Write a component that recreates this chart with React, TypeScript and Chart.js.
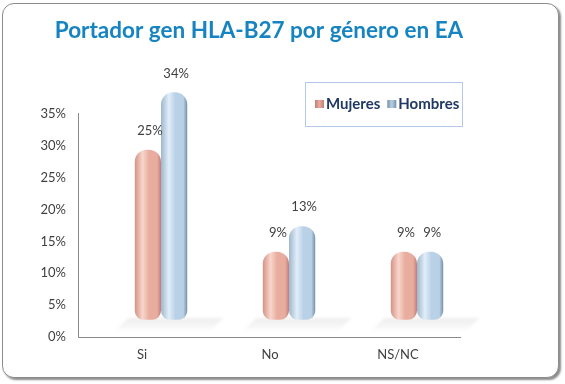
import { useEffect, useRef } from 'react';
import { Chart, registerables } from 'chart.js';

Chart.register(...registerables);

const TITLE = 'Portador gen HLA-B27 por género en EA';
const categories = ['Si', 'No', 'NS/NC'];
const seriesNames = ['Mujeres', 'Hombres'];
const mujeres = [25, 9, 9];
const hombres = [34, 13, 9];
const Y_MAX = 35;
const Y_STEP = 5;

// pseudo-3D depth offset of the back wall vs. the front axes
const DX = 19;
const DY = 28;
const CAT_PCT = 0.41;

const pink = { edge: '#D39486', base: '#E9AD9F', light: '#F8D6CC', dark: '#C07F72' };
const blue = { edge: '#9DB7CF', base: '#B9D1E7', light: '#E2EEF8', dark: '#7590A8' };

function cylinderFill(stops: typeof pink) {
  return (c: any) => {
    const chart = c.chart;
    const area = chart.chartArea;
    if (!area || c.dataIndex === undefined) return stops.base;
    const w = (area.width / categories.length) * CAT_PCT;
    const center = chart.scales.x.getPixelForValue(c.dataIndex) + (c.datasetIndex === 0 ? -w / 4 : w / 4);
    const g = chart.ctx.createLinearGradient(center - w / 4, 0, center + w / 4, 0);
    g.addColorStop(0, stops.edge);
    g.addColorStop(0.3, stops.light);
    g.addColorStop(0.55, stops.base);
    g.addColorStop(0.85, stops.base);
    g.addColorStop(1, stops.dark);
    return g;
  };
}

const frontAxes = {
  id: 'frontAxes',
  beforeDatasetsDraw(chart: any) {
    const { ctx, chartArea: a } = chart;
    ctx.save();
    // soft floor shadows under each pair of cylinders
    const w = (a.width / categories.length) * CAT_PCT;
    categories.forEach((_, i) => {
      const cx = chart.scales.x.getPixelForValue(i);
      const y0 = a.bottom + 9;
      const y1 = a.bottom + 21;
      const g = ctx.createLinearGradient(0, y0, 0, y1);
      g.addColorStop(0, 'rgba(0,0,0,0.07)');
      g.addColorStop(1, 'rgba(0,0,0,0.015)');
      ctx.fillStyle = g;
      ctx.filter = 'blur(1.5px)';
      ctx.beginPath();
      ctx.moveTo(cx - w / 2 - 6, y0);
      ctx.lineTo(cx + w / 2 + 36, y0);
      ctx.lineTo(cx + w / 2 + 24, y1);
      ctx.lineTo(cx - w / 2 - 20, y1);
      ctx.closePath();
      ctx.fill();
    });
    ctx.filter = 'none';
    ctx.strokeStyle = '#898989';
    ctx.lineWidth = 1;
    ctx.beginPath();
    const left = Math.round(a.left - DX) + 0.5;
    const bottom = Math.round(a.bottom + DY) + 0.5;
    ctx.moveTo(left, Math.round(a.top + DY - 1));
    ctx.lineTo(left, bottom);
    ctx.lineTo(Math.round(a.right - DX - 1), bottom);
    ctx.stroke();
    ctx.restore();
  },
};

const valueLabels = {
  id: 'valueLabels',
  afterDatasetsDraw(chart: any) {
    const { ctx } = chart;
    ctx.save();
    ctx.font = '13px Lato';
    ctx.fillStyle = '#404040';
    ctx.textAlign = 'center';
    ctx.textBaseline = 'middle';
    chart.data.datasets.forEach((ds: any, di: number) => {
      const meta = chart.getDatasetMeta(di);
      meta.data.forEach((el: any, i: number) => {
        ctx.fillText(ds.data[i] + '%', el.x + 2, el.y - 19);
      });
    });
    ctx.restore();
  },
};

const boxLegend = {
  id: 'boxLegend',
  afterDraw(chart: any) {
    const { ctx, chartArea: a } = chart;
    const x = a.right - 176;
    const y = a.top - 4;
    ctx.save();
    ctx.strokeStyle = '#B4C9EA';
    ctx.lineWidth = 1;
    ctx.strokeRect(Math.round(x) + 0.5, Math.round(y) + 0.5, 157, 44);
    ctx.font = 'bold 15px Lato';
    ctx.textBaseline = 'middle';
    const fills = [pink, blue];
    let cx = x + 10;
    seriesNames.forEach((name, i) => {
      const f = fills[i];
      const g = ctx.createLinearGradient(cx, 0, cx + 9, 0);
      g.addColorStop(0, f.dark);
      g.addColorStop(0.5, f.base);
      g.addColorStop(1, f.dark);
      ctx.fillStyle = g;
      ctx.fillRect(cx, y + 18, 9, 8);
      ctx.fillStyle = '#1F3864';
      ctx.textAlign = 'left';
      ctx.fillText(name, cx + 11, y + 22);
      cx += 11 + ctx.measureText(name).width + 7;
    });
    ctx.restore();
  },
};

export default function App() {
  const ref = useRef<HTMLCanvasElement | null>(null);

  useEffect(() => {
    if (!ref.current) return;
    const chart = new Chart(ref.current, {
      type: 'bar',
      data: {
        labels: categories,
        datasets: [
          {
            label: seriesNames[0],
            data: mujeres,
            backgroundColor: cylinderFill(pink),
          },
          {
            label: seriesNames[1],
            data: hombres,
            backgroundColor: cylinderFill(blue),
          },
        ],
      },
      options: {
        animation: false,
        responsive: false,
        maintainAspectRatio: false,
        layout: { padding: { left: 37, right: 84, top: 0, bottom: 15 } },
        datasets: {
          bar: {
            categoryPercentage: CAT_PCT,
            barPercentage: 1,
            base: -1.7,
            clip: false as any,
            borderSkipped: false,
            borderRadius: { topLeft: 12, topRight: 12, bottomLeft: 9, bottomRight: 9 },
          },
        },
        plugins: {
          legend: { display: false },
          tooltip: { enabled: false },
          title: {
            display: true,
            text: TITLE,
            color: '#1784C2',
            font: { family: 'Lato', size: 22.5, weight: 'bold' },
            padding: { top: 17, bottom: 42 },
          },
        },
        scales: {
          x: {
            grid: { display: false, drawTicks: false },
            border: { display: false },
            ticks: {
              color: '#404040',
              font: { family: 'Lato', size: 13 },
              padding: 38,
              labelOffset: -DX,
            },
            afterFit(scale: any) {
              scale.height = 60;
            },
          },
          y: {
            min: 0,
            max: Y_MAX,
            grid: { display: false, drawTicks: false },
            border: { display: false },
            ticks: {
              stepSize: Y_STEP,
              color: '#404040',
              font: { family: 'Lato', size: 13 },
              padding: 31,
              labelOffset: DY,
              callback: (v: any) => v + '%',
            },
            afterFit(scale: any) {
              scale.width = 60;
            },
          },
        },
      },
      plugins: [frontAxes, valueLabels, boxLegend],
    });
    return () => chart.destroy();
  }, []);

  return (
    <div style={{ position: 'fixed', left: 0, top: 0, width: 565, height: 384, background: '#fff' }}>
      <div
        style={{
          position: 'absolute',
          left: 2,
          top: 3,
          width: 555,
          height: 373,
          border: '1px solid #8C8C8C',
          borderRadius: 12,
          boxShadow: '2px 2px 2px rgba(0,0,0,0.45)',
          background: '#fff',
        }}
      />
      <canvas ref={ref} width={565} height={384} style={{ position: 'absolute', left: 0, top: 0 }} />
    </div>
  );
}
